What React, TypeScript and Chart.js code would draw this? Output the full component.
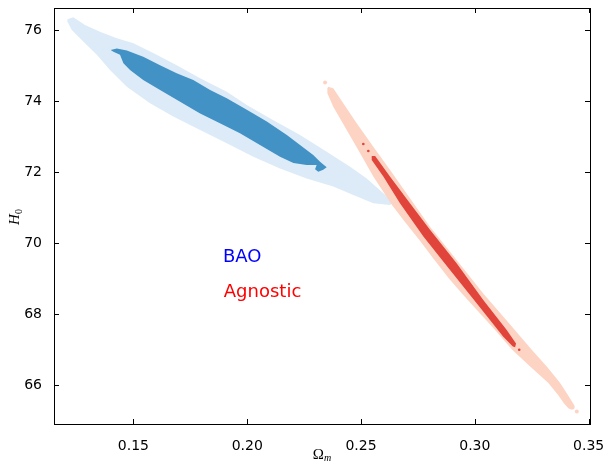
import { useEffect, useRef } from 'react';
import { Chart, registerables } from 'chart.js';

Chart.register(...registerables);

// ---- axis data ----
const xTicks = [0.15, 0.2, 0.25, 0.3, 0.35];
const yTicks = [66, 68, 70, 72, 74, 76];
const xRange = [0.1151, 0.3506];
const yRange = [64.9, 76.62];

// ---- contour outlines (Omega_m, H0) ----
const baoOuter: [number, number][] = [
  [0.1210, 76.30], [0.1236, 76.36], [0.1287, 76.14], [0.1353, 75.95], [0.1427, 75.77], [0.1500, 75.63],
  [0.1602, 75.30], [0.1690, 75.01], [0.1793, 74.64], [0.1910, 74.26], [0.1998, 73.89], [0.2115, 73.46],
  [0.2232, 73.04], [0.2349, 72.57], [0.2452, 72.15], [0.2525, 71.82], [0.2598, 71.40], [0.2642, 71.14],
  [0.2627, 71.07], [0.2554, 71.12], [0.2466, 71.35], [0.2378, 71.59], [0.2261, 71.82], [0.2144, 72.10],
  [0.2027, 72.43], [0.1910, 72.81], [0.1793, 73.18], [0.1675, 73.56], [0.1573, 73.94], [0.1471, 74.40],
  [0.1397, 74.87], [0.1339, 75.30], [0.1273, 75.72], [0.1229, 76.00], [0.1210, 76.23],
];

const baoInner: [number, number][] = [
  [0.1400, 75.44], [0.1427, 75.48], [0.1471, 75.42], [0.1543, 75.25], [0.1617, 75.01], [0.1690, 74.78],
  [0.1763, 74.59], [0.1837, 74.31], [0.1910, 74.08], [0.1998, 73.75], [0.2086, 73.42], [0.2174, 73.04],
  [0.2232, 72.76], [0.2290, 72.48], [0.2320, 72.29], [0.2349, 72.13], [0.2334, 72.06], [0.2312, 72.01],
  [0.2298, 72.08], [0.2305, 72.20], [0.2261, 72.20], [0.2203, 72.25], [0.2144, 72.43], [0.2056, 72.76],
  [0.1968, 73.09], [0.1880, 73.37], [0.1793, 73.65], [0.1705, 73.98], [0.1617, 74.31], [0.1543, 74.59],
  [0.1485, 74.87], [0.1456, 75.06], [0.1441, 75.30], [0.1412, 75.39],
];

const agnOuter: [number, number][] = [
  [0.2356, 74.40], [0.2378, 74.36], [0.2422, 73.94], [0.2481, 73.37], [0.2554, 72.71], [0.2627, 72.06],
  [0.2715, 71.26], [0.2803, 70.46], [0.2920, 69.52], [0.3037, 68.58], [0.3155, 67.70], [0.3250, 66.99],
  [0.3317, 66.51], [0.3374, 66.06], [0.3409, 65.72], [0.3430, 65.50], [0.3439, 65.40], [0.3437, 65.33],
  [0.3427, 65.30], [0.3412, 65.34], [0.3392, 65.48], [0.3366, 65.72], [0.3322, 66.06], [0.3243, 66.52],
  [0.3164, 66.99], [0.3089, 67.55], [0.3014, 68.08], [0.2957, 68.48], [0.2887, 68.99], [0.2816, 69.58],
  [0.2759, 70.06], [0.2693, 70.59], [0.2636, 71.07], [0.2554, 71.87], [0.2496, 72.53], [0.2437, 73.18],
  [0.2378, 73.84], [0.2352, 74.22], [0.2352, 74.36],
];

const agnInner: [number, number][] = [
  [0.2547, 72.45], [0.2562, 72.45], [0.2627, 71.87], [0.2715, 71.12], [0.2803, 70.37], [0.2920, 69.43],
  [0.3037, 68.39], [0.3140, 67.55], [0.3181, 67.17], [0.3177, 67.06], [0.3167, 67.08], [0.3125, 67.36],
  [0.3008, 68.30], [0.2891, 69.24], [0.2774, 70.18], [0.2671, 71.12], [0.2598, 71.87], [0.2547, 72.34],
];

const agnOuterDots: [number, number][] = [[0.2342, 74.52], [0.3448, 65.25]];
const agnInnerDots: [number, number][] = [[0.2510, 72.79], [0.2532, 72.59], [0.3195, 66.99]];

// ---- text labels ----
const labelTexts = ['BAO', 'Agnostic'];
const labelX = [0.1893, 0.1897];
const labelY = [69.47, 68.49];
const labelColors = ['#0000ff', '#ff0000'];

const SANS = '"DejaVu Sans", sans-serif';
const SERIF = '"Liberation Serif", "DejaVu Serif", serif';

const COLORS = {
  baoLight: '#dcebf7',
  baoDark: '#4292c6',
  agnLight: '#fdd4c3',
  agnDark: '#e1443a',
};

const closed = (arr: [number, number][]) =>
  [...arr, arr[0]].map(([x, y]) => ({ x, y }));
const pts = (arr: [number, number][]) => arr.map(([x, y]) => ({ x, y }));

const shape = (data: any[], color: string, order: number) => ({
  data,
  showLine: true,
  fill: 'shape',
  backgroundColor: color,
  borderColor: 'transparent',
  borderWidth: 0,
  pointRadius: 0,
  tension: 0,
  order,
});

const dots = (data: any[], color: string, r: number, order: number) => ({
  data,
  showLine: false,
  pointRadius: r,
  pointBackgroundColor: color,
  pointBorderColor: 'transparent',
  pointBorderWidth: 0,
  order,
});

const annotPlugin = {
  id: 'annot',
  afterDatasetsDraw(chart: any) {
    const { ctx, scales } = chart;
    ctx.save();
    ctx.font = `18px ${SANS}`;
    ctx.textAlign = 'left';
    ctx.textBaseline = 'alphabetic';
    labelTexts.forEach((t, i) => {
      ctx.fillStyle = labelColors[i];
      ctx.fillText(t, scales.x.getPixelForValue(labelX[i]), scales.y.getPixelForValue(labelY[i]));
    });
    ctx.restore();
  },
};

const framePlugin = {
  id: 'frame',
  afterDraw(chart: any) {
    const { ctx, chartArea: a, scales } = chart;
    ctx.save();
    ctx.strokeStyle = '#000';
    ctx.lineWidth = 1;
    ctx.beginPath();
    const L = 5;
    xTicks.forEach((v) => {
      const p = Math.round(scales.x.getPixelForValue(v)) + 0.5;
      ctx.moveTo(p, a.bottom);
      ctx.lineTo(p, a.bottom - L);
      ctx.moveTo(p, a.top);
      ctx.lineTo(p, a.top + L);
    });
    yTicks.forEach((v) => {
      const p = Math.round(scales.y.getPixelForValue(v)) + 0.5;
      ctx.moveTo(a.left, p);
      ctx.lineTo(a.left + L, p);
      ctx.moveTo(a.right, p);
      ctx.lineTo(a.right - L, p);
    });
    ctx.stroke();
    ctx.strokeRect(a.left + 0.5, a.top + 0.5, a.right - a.left, a.bottom - a.top);

    // x axis label: Omega_m
    ctx.fillStyle = '#000';
    ctx.textBaseline = 'alphabetic';
    const cx = (a.left + a.right) / 2;
    ctx.font = `15px ${SERIF}`;
    const wO = ctx.measureText('Ω').width;
    ctx.font = `italic 10px ${SERIF}`;
    const wm = ctx.measureText('m').width;
    const x0 = cx - (wO + wm) / 2;
    ctx.font = `15px ${SERIF}`;
    ctx.textAlign = 'left';
    ctx.fillText('Ω', x0, 459);
    ctx.font = `italic 10px ${SERIF}`;
    ctx.fillText('m', x0 + wO, 461);

    // y axis label: H_0 rotated
    ctx.save();
    ctx.translate(19, 217);
    ctx.rotate(-Math.PI / 2);
    ctx.font = `italic 15px ${SERIF}`;
    const wH = ctx.measureText('H').width;
    ctx.font = `10px ${SERIF}`;
    const w0 = ctx.measureText('0').width;
    const sx = -(wH + w0) / 2;
    ctx.font = `italic 15px ${SERIF}`;
    ctx.fillText('H', sx, 0);
    ctx.font = `10px ${SERIF}`;
    ctx.fillText('0', sx + wH, 3);
    ctx.restore();

    ctx.restore();
  },
};

export default function App() {
  const ref = useRef<HTMLCanvasElement | null>(null);

  useEffect(() => {
    document.body.style.margin = '0';
    const canvas = ref.current;
    if (!canvas) return;
    const chart = new Chart(canvas, {
      type: 'scatter',
      data: {
        datasets: [
          shape(closed(baoOuter), COLORS.baoLight, 9),
          shape(closed(baoInner), COLORS.baoDark, 8),
          shape(closed(agnOuter), COLORS.agnLight, 7),
          dots(pts(agnOuterDots), COLORS.agnLight, 2, 6),
          shape(closed(agnInner), COLORS.agnDark, 5),
          dots(pts(agnInnerDots), COLORS.agnDark, 1.3, 4),
        ] as any,
      },
      options: {
        animation: false,
        responsive: false,
        devicePixelRatio: 1,
        events: [],
        layout: { padding: { left: 0, right: 14, top: 8, bottom: 0 } },
        plugins: {
          legend: { display: false },
          tooltip: { enabled: false },
        },
        scales: {
          x: {
            type: 'linear',
            min: xRange[0],
            max: xRange[1],
            grid: { display: false },
            border: { display: false },
            afterBuildTicks: (s: any) => {
              s.ticks = xTicks.map((value) => ({ value }));
            },
            afterFit: (s: any) => {
              s.height = 38;
              s.paddingLeft = 0;
              s.paddingRight = 0;
            },
            ticks: {
              autoSkip: false,
              maxRotation: 0,
              padding: 6,
              color: '#000',
              font: { family: SANS, size: 14 },
              callback: (v: any) => Number(v).toFixed(2),
            },
          },
          y: {
            type: 'linear',
            min: yRange[0],
            max: yRange[1],
            grid: { display: false },
            border: { display: false },
            afterBuildTicks: (s: any) => {
              s.ticks = yTicks.map((value) => ({ value }));
            },
            afterFit: (s: any) => {
              s.width = 54;
              s.paddingTop = 0;
              s.paddingBottom = 0;
            },
            ticks: {
              autoSkip: false,
              padding: 4,
              color: '#000',
              font: { family: SANS, size: 14 },
              callback: (v: any) => String(v),
            },
          },
        },
      } as any,
      plugins: [annotPlugin, framePlugin],
    });
    return () => chart.destroy();
  }, []);

  return (
    <div style={{ width: 604, height: 462, background: '#fff' }}>
      <canvas ref={ref} width={604} height={462} style={{ display: 'block' }} />
    </div>
  );
}
